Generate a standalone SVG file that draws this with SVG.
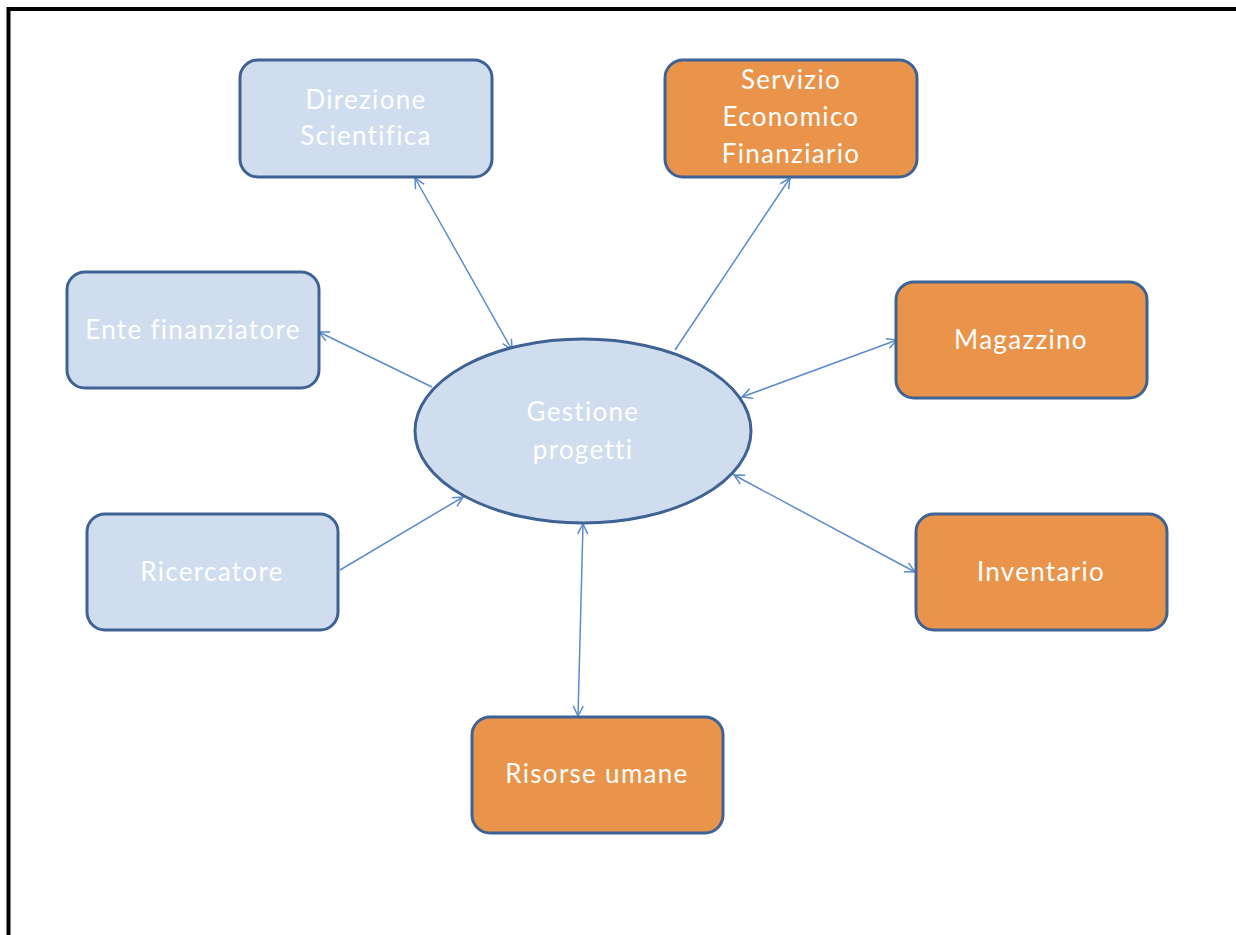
<svg xmlns="http://www.w3.org/2000/svg" width="1236" height="935" viewBox="0 0 1236 935">
<style>
.blue rect,.blue ellipse{fill:#D0DDEE;stroke:#3E6293;stroke-width:3}
.orange rect{fill:#E9944A;stroke:#3E6293;stroke-width:3}
text{font-family:Lato,"Liberation Sans",sans-serif;font-size:26px;letter-spacing:1.3px;font-variant-ligatures:none;fill:#FFFFFF;text-anchor:middle}
.conn line{stroke:#5B8BCB;stroke-width:1.5;fill:none}
</style>
<defs>
<marker id="ah" viewBox="0 0 12 12" refX="11" refY="6" markerWidth="12" markerHeight="12" markerUnits="userSpaceOnUse" orient="auto-start-reverse">
<path d="M1,1 L11,6 L1,11" fill="none" stroke="#5B8BCB" stroke-width="1.5"/>
</marker>
</defs>
<rect x="8.5" y="9" width="1240" height="940" fill="none" stroke="#000" stroke-width="4"/>
<g class="conn">
<line x1="415" y1="178" x2="512" y2="350" marker-start="url(#ah)" marker-end="url(#ah)"/>
<line x1="675" y1="350" x2="790" y2="178" marker-end="url(#ah)"/>
<line x1="432" y1="387" x2="319" y2="332" marker-end="url(#ah)"/>
<line x1="897" y1="340" x2="742" y2="397" marker-start="url(#ah)" marker-end="url(#ah)"/>
<line x1="340" y1="570" x2="463" y2="497" marker-end="url(#ah)"/>
<line x1="734" y1="475" x2="915" y2="572" marker-start="url(#ah)" marker-end="url(#ah)"/>
<line x1="583" y1="524" x2="578" y2="716" marker-start="url(#ah)" marker-end="url(#ah)"/>
</g>
<g id="direzione" class="blue">
<rect x="240" y="60" width="252" height="117" rx="18"/>
<text x="366" y="109">Direzione</text>
<text x="366" y="145">Scientifica</text>
</g>
<g id="servizio" class="orange">
<rect x="665" y="60" width="252" height="117" rx="18"/>
<text x="791" y="89">Servizio</text>
<text x="791" y="126">Economico</text>
<text x="791" y="163">Finanziario</text>
</g>
<g id="ente" class="blue">
<rect x="67" y="272" width="252" height="116" rx="18"/>
<text x="193" y="339">Ente finanziatore</text>
</g>
<g id="magazzino" class="orange">
<rect x="896" y="282" width="251" height="116" rx="18"/>
<text x="1021" y="349">Magazzino</text>
</g>
<g id="gestione" class="blue">
<ellipse cx="583" cy="431" rx="168" ry="92"/>
<text x="583" y="421">Gestione</text>
<text x="583" y="459">progetti</text>
</g>
<g id="ricercatore" class="blue">
<rect x="87" y="514" width="251" height="116" rx="18"/>
<text x="212" y="581">Ricercatore</text>
</g>
<g id="inventario" class="orange">
<rect x="916" y="514" width="251" height="116" rx="18"/>
<text x="1041" y="581">Inventario</text>
</g>
<g id="risorse" class="orange">
<rect x="472" y="717" width="251" height="116" rx="18"/>
<text x="597" y="783">Risorse umane</text>
</g>
</svg>
